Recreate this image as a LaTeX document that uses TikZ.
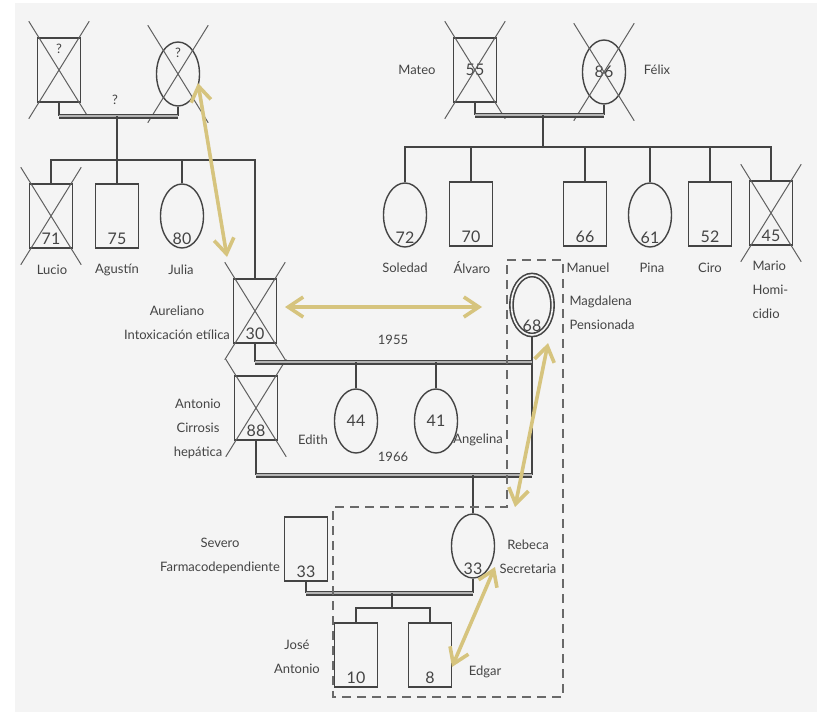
\documentclass[tikz,border=0pt]{standalone}
\usepackage{fontspec}
\setmainfont{Lato}
\usepackage{tikz}
\usetikzlibrary{positioning, shapes.geometric, arrows.meta, calc}
\definecolor{inkgray}{RGB}{68,68,68}
\definecolor{linkgold}{RGB}{214,196,126}
\definecolor{paper}{RGB}{244,244,244}
\newcommand{\agefont}{\fontsize{16}{16}\selectfont}
\newcommand{\namefont}{\fontsize{13}{24}\selectfont}
\newcommand{\deceased}[1]{%
  \draw[xline] ($(#1.north -| #1.west)+(-8,-16)$) -- ($(#1.south -| #1.east)+(8,16)$);
  \draw[xline] ($(#1.north -| #1.east)+(8,-16)$) -- ($(#1.south -| #1.west)+(-8,16)$);}

\begin{document}
\begin{tikzpicture}[x=1pt, y=-1pt,
    person/.style={draw=inkgray, line width=1.4pt, minimum width=43pt, minimum height=64pt, inner sep=0pt, font=\agefont, text=inkgray},
    male/.style={person},
    female/.style={person, ellipse},
    age/.style={label={[anchor=south, yshift=1pt, font=\agefont, text=inkgray]south:#1}},
    qmark/.style={label={[anchor=north, yshift=-3pt, font=\namefont, text=inkgray]north:?}},
    lbl/.style={font=\namefont, text=inkgray, align=center},
    tie/.style={draw=inkgray, line width=1.4pt},
    wed/.style={draw=inkgray, line width=1.3pt, double=inkgray!40, double distance=2.4pt},
    xline/.style={draw=inkgray!85, line width=1pt},
    household/.style={draw=inkgray!80, line width=1.6pt, dash pattern=on 9pt off 6pt},
    link/.style={{Straight Barb[length=15pt,width=20pt]}-{Straight Barb[length=15pt,width=20pt]}, draw=linkgold, line width=3.6pt}
  ]
  \useasboundingbox (0,0) rectangle (817,712);
  \fill[paper] (15,3) rectangle (817,712);

  \node[male, qmark] (gfather) at (59,70) {};
  \node[female, qmark] (gmother) at (178,74) {};
  \node[lbl] (gqm) at (115,100) {?};
  \node[male, age=71] (lucio) at (51,216) {};
  \node[male, age=75] (agustin) at (117,216) {};
  \node[female, age=80] (julia) at (182,216) {};
  \node[lbl] (lucion) at (52,270) {Lucio};
  \node[lbl] (agustinn) at (117,270) {Agustín};
  \node[lbl] (julian) at (181,270) {Julia};

  \node[male] (mateo) at (475,70) {55};
  \node[female] (felix) at (604,72) {86};
  \node[lbl] (mateon) at (417,70) {Mateo};
  \node[lbl] (felixn) at (657,70) {Félix};
  \node[female, age=72] (soledad) at (405,215) {};
  \node[male, age=70] (alvaro) at (471,214) {};
  \node[male, age=66] (manuel) at (585,214) {};
  \node[female, age=61] (pina) at (650,215) {};
  \node[male, age=52] (ciro) at (710,214) {};
  \node[male, age=45] (mario) at (771,213) {};
  \node[lbl] (soledadn) at (405,268) {Soledad};
  \node[lbl] (alvaron) at (472,268) {Álvaro};
  \node[lbl] (manueln) at (588,268) {Manuel};
  \node[lbl] (pinan) at (652,268) {Pina};
  \node[lbl] (ciron) at (710,268) {Ciro};
  \node[lbl, align=left, anchor=north west] (marion) at (749,257) {Mario\\Homi-\\cidio};

  \node[male, age=30] (aureliano) at (255,311) {};
  \node[lbl] (aurelianon) at (177,323) {Aureliano\\Intoxicación etílica};
  \node[female, age=68, line width=1.6pt, double=paper, double distance=1.6pt, minimum width=41pt, minimum height=60pt] (magdalena) at (532,305) {};
  \node[lbl, align=left, anchor=west] (magdalenan) at (566,313) {Magdalena\\Pensionada};
  \node[male, age=88] (antonio) at (256,408) {};
  \node[lbl] (antonion) at (198,429) {Antonio\\Cirrosis\\hepática};
  \node[female] (edith) at (356,421) {44};
  \node[female] (angelina) at (436,421) {41};
  \node[lbl] (edithn) at (313,440) {Edith};
  \node[lbl] (angelinan) at (478,440) {Angelina};
  \node[lbl] (y55) at (393,340) {1955};
  \node[lbl] (y66) at (393,457) {1966};

  \node[male, age=33] (severo) at (306,549) {};
  \node[lbl] (severon) at (220,556) {Severo\\Farmacodependiente};
  \node[female, age=33] (rebeca) at (473,546) {};
  \node[lbl] (rebecan) at (528,557) {Rebeca\\Secretaria};
  \node[male, age=10] (jose) at (356,655) {};
  \node[male, age=8] (edgar) at (430,655) {};
  \node[lbl] (josen) at (297,657) {José\\Antonio};
  \node[lbl] (edgarn) at (485,672) {Edgar};

  \deceased{gfather}
  \deceased{gmother}
  \deceased{lucio}
  \deceased{mateo}
  \deceased{felix}
  \deceased{mario}
  \deceased{aureliano}
  \deceased{antonio}

  \coordinate (mL) at (117,116);
  \coordinate (kidsL) at (117,160);
  \coordinate (mR) at (543,115);
  \coordinate (kidsR) at (543,147);
  \coordinate (m55) at (393,362);
  \coordinate (m66) at (393,475);
  \coordinate (m77) at (392,593);
  \coordinate (kids77) at (392,608);

  \draw[tie] (gfather.south) -- (gfather.south |- mL);
  \draw[tie] (gmother.south) -- (gmother.south |- mL);
  \draw[wed] (gfather.south |- mL) -- (gmother.south |- mL);
  \draw[tie] (mL) -- (kidsL);
  \draw[tie] (lucio.north) |- (aureliano.north |- kidsL) -- (aureliano.north);
  \draw[tie] (agustin.north) -- (agustin.north |- kidsL);
  \draw[tie] (julia.north) -- (julia.north |- kidsL);

  \draw[tie] (mateo.south) -- (mateo.south |- mR);
  \draw[tie] (felix.south) -- (felix.south |- mR);
  \draw[wed] (mateo.south |- mR) -- (felix.south |- mR);
  \draw[tie] (mR) -- (kidsR);
  \draw[tie] (soledad.north) |- (mario.north |- kidsR) -- (mario.north);
  \draw[tie] (alvaro.north) -- (alvaro.north |- kidsR);
  \draw[tie] (manuel.north) -- (manuel.north |- kidsR);
  \draw[tie] (pina.north) -- (pina.north |- kidsR);
  \draw[tie] (ciro.north) -- (ciro.north |- kidsR);

  \draw[tie] (aureliano.south) -- (aureliano.south |- m55);
  \draw[tie] (magdalena.south) -- (magdalena.south |- m66);
  \draw[wed] (aureliano.south |- m55) -- (magdalena.south |- m55);
  \draw[tie] (edith.north) -- (edith.north |- m55);
  \draw[tie] (angelina.north) -- (angelina.north |- m55);
  \draw[tie] (antonio.south) -- (antonio.south |- m66);
  \draw[wed] (antonio.south |- m66) -- (magdalena.south |- m66);
  \draw[tie] (rebeca.north) -- (rebeca.north |- m66);

  \draw[tie] (severo.south) -- (severo.south |- m77);
  \draw[tie] (rebeca.south) -- (rebeca.south |- m77);
  \draw[wed] (severo.south |- m77) -- (rebeca.south |- m77);
  \draw[tie] (m77) -- (kids77);
  \draw[tie] (jose.north) |- (edgar.north |- kids77) -- (edgar.north);

  \draw[household] (507,260) -- (563,260) -- (563,697) -- (333,697) -- (333,507) -- (507,507) -- cycle;

  \coordinate (l1a) at (198,83);
  \coordinate (l1b) at (227,257);
  \coordinate (l2a) at (285,307);
  \coordinate (l2b) at (482,307);
  \coordinate (l3a) at (548,343);
  \coordinate (l3b) at (515,507);
  \coordinate (l4a) at (495,567);
  \coordinate (l4b) at (452,667);
  \draw[link] (l1a) -- (l1b);
  \draw[link] (l2a) -- (l2b);
  \draw[link] (l3a) -- (l3b);
  \draw[link] (l4a) -- (l4b);
\end{tikzpicture}
\end{document}
